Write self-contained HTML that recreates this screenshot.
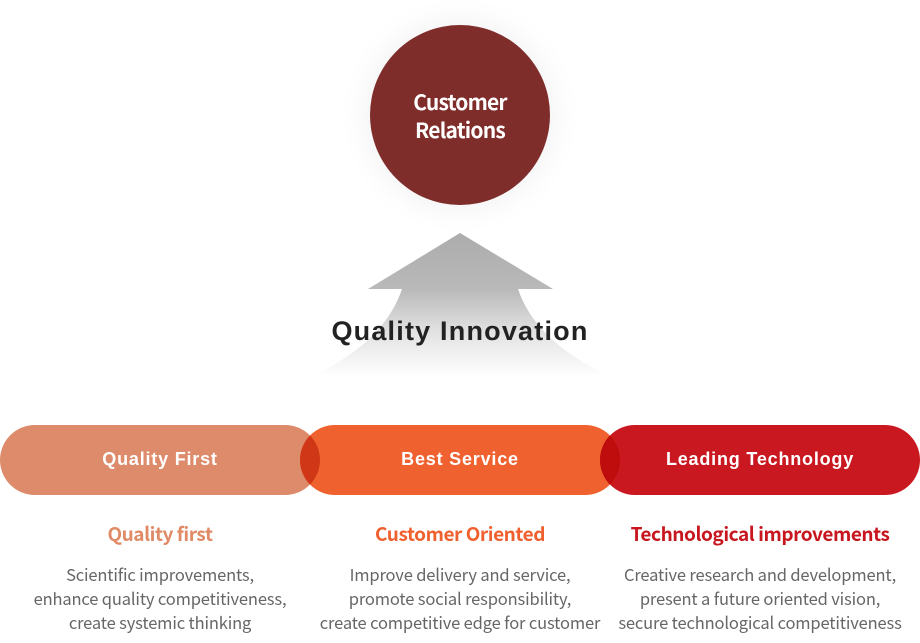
<!DOCTYPE html>
<html><head><meta charset="utf-8">
<style>
html,body{margin:0;padding:0;background:#fff;}
body{width:920px;height:643px;position:relative;overflow:hidden;font-family:"Liberation Sans","Noto Sans CJK KR",sans-serif;}
svg{position:absolute;left:0;top:0;}
.t{position:absolute;text-align:center;white-space:nowrap;}
.circ{position:absolute;left:370px;top:25px;width:180px;height:180px;border-radius:50%;background:#7f2d2b;box-shadow:0 0 34px rgba(0,0,0,0.07);}
.ct{left:370px;width:180px;top:88px;color:#fff;font-family:"Noto Sans CJK KR",sans-serif;font-weight:700;font-size:21px;line-height:28px;letter-spacing:-0.8px;}
.qi{left:300px;width:320px;top:313px;font-weight:700;font-size:27px;line-height:36px;color:#222;letter-spacing:1.2px;}
.pl{top:447px;width:320px;color:#fff;font-weight:700;font-size:18px;line-height:24px;letter-spacing:0.8px;}
.hd{top:520px;width:320px;font-family:"Noto Sans CJK KR",sans-serif;font-weight:700;font-size:19px;line-height:28px;letter-spacing:-0.45px;}
.bd{top:562px;width:320px;font-family:"Noto Sans CJK KR",sans-serif;font-size:16.5px;line-height:24px;color:#666;letter-spacing:-0.15px;}
</style></head><body>
<div class="circ"></div>
<div class="t ct">Customer<br>Relations</div>
<svg width="920" height="643" viewBox="0 0 920 643">
<defs>
<linearGradient id="ag" x1="0" y1="233" x2="0" y2="374" gradientUnits="userSpaceOnUse">
<stop offset="0" stop-color="#acacac"/>
<stop offset="0.4" stop-color="#b9b9b9"/>
<stop offset="0.7" stop-color="#e2e2e2"/>
<stop offset="1" stop-color="#fdfdfd"/>
</linearGradient>
<clipPath id="c1"><circle cx="285" cy="460" r="35"/></clipPath>
<clipPath id="c2"><circle cx="585" cy="460" r="35"/></clipPath>
</defs>
<path d="M460,233 L553,289 L518,289 Q535,340 605,374 L317,374 Q385,340 402,289 L368,289 Z" fill="url(#ag)"/>
<rect x="0" y="425" width="320" height="70" rx="35" fill="#dd8b6a"/>
<rect x="300" y="425" width="320" height="70" rx="35" fill="#f06130"/>
<rect x="600" y="425" width="320" height="70" rx="35" fill="#c91820"/>
<circle cx="335" cy="460" r="35" fill="#cf3716" clip-path="url(#c1)"/>
<circle cx="635" cy="460" r="35" fill="#bf0c0c" clip-path="url(#c2)"/>
</svg>
<div class="t qi">Quality Innovation</div>
<div class="t pl" style="left:0">Quality First</div>
<div class="t pl" style="left:300px">Best Service</div>
<div class="t pl" style="left:600px">Leading Technology</div>
<div class="t hd" style="left:0;color:#e08a66">Quality first</div>
<div class="t hd" style="left:300px;color:#f0602e">Customer Oriented</div>
<div class="t hd" style="left:600px;color:#c8161e">Technological improvements</div>
<div class="t bd" style="left:0">Scientific improvements,<br>enhance quality competitiveness,<br>create systemic thinking</div>
<div class="t bd" style="left:300px">Improve delivery and service,<br>promote social responsibility,<br>create competitive edge for customer</div>
<div class="t bd" style="left:600px">Creative research and development,<br>present a future oriented vision,<br>secure technological competitiveness</div>
</body></html>
